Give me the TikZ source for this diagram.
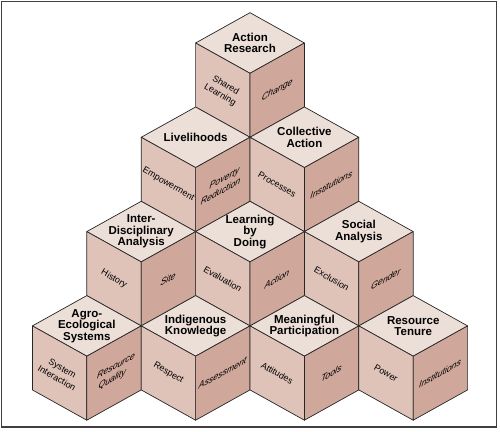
\documentclass[tikz,border=0pt]{standalone}
\usepackage{fontspec}
\setmainfont{Liberation Sans}
\definecolor{facetop}{RGB}{236,223,216}
\definecolor{faceleft}{RGB}{223,195,185}
\definecolor{faceright}{RGB}{208,168,155}
\tikzset{
  frame/.style={draw=black!75, line width=1.3pt},
  topface/.style={fill=facetop, draw=black!85, line width=0.7pt, line join=round},
  leftface/.style={fill=faceleft, draw=black!85, line width=0.7pt, line join=round},
  rightface/.style={fill=faceright, draw=black!85, line width=0.7pt, line join=round},
  toplabel/.style={font=\bfseries\fontsize{11.5}{11.5}\selectfont, align=center, inner sep=0pt},
  leftlabel/.style={font=\fontsize{9}{11}\selectfont, align=center, inner sep=0pt,
    rotate=-30},
  rightlabel/.style={font=\fontsize{10}{12.5}\selectfont, align=center, inner sep=0pt,
    rotate=29, xslant=1.0, yscale=0.78},
}
\begin{document}
\begin{tikzpicture}[x=1pt, y=1pt]
\useasboundingbox (0,0) rectangle (500,431);
\draw[frame] (1.5,4) rectangle (496.5,429.5);
% cubes, back row first
\foreach \row/\col/\nm/\ttop/\tleft/\tright in {
  0/0/ar/{Action\\Research}/{Shared\\Learning}/Change,
  1/0/lh/Livelihoods/Empowerment/{Poverty\\Reduction},
  1/1/ca/{Collective\\Action}/Processes/Institutions,
  2/0/id/{Inter-\\Disciplinary\\Analysis}/History/Site,
  2/1/lbd/{Learning\\by\\Doing}/Evaluation/Action,
  2/2/sa/{Social\\Analysis}/Exclusion/Gender,
  3/0/ae/{Agro-\\Ecological\\Systems}/{System\\Interaction}/{Resource\\Quality},
  3/1/ik/{Indigenous\\Knowledge}/Respect/Assessment,
  3/2/mp/{Meaningful\\Participation}/Attitudes/Tools,
  3/3/rt/{Resource\\Tenure}/Power/Institutions}
{
  \coordinate (\nm) at ({250+54.4*(2*\col-\row)}, {418.3-94.3*\row});
  \draw[topface] (\nm) -- ++(54.4,-30.3) -- ++(-54.4,-30.3) -- ++(-54.4,30.3) -- cycle;
  \draw[leftface] (\nm) ++(-54.4,-30.3) -- ++(54.4,-30.3) -- ++(0,-64) -- ++(-54.4,30.3) -- cycle;
  \draw[rightface] (\nm) ++(0,-60.6) -- ++(54.4,30.3) -- ++(0,-64) -- ++(-54.4,-30.3) -- cycle;
  \path (\nm) ++(0,-30.3) node[toplabel] (\nm-top) {\ttop};
  \path (\nm) ++(-27.2,-77.5) node[leftlabel] (\nm-left) {\tleft};
  \path (\nm) ++(27.2,-77.5) node[rightlabel] (\nm-right) {\tright};
}
\end{tikzpicture}
\end{document}
